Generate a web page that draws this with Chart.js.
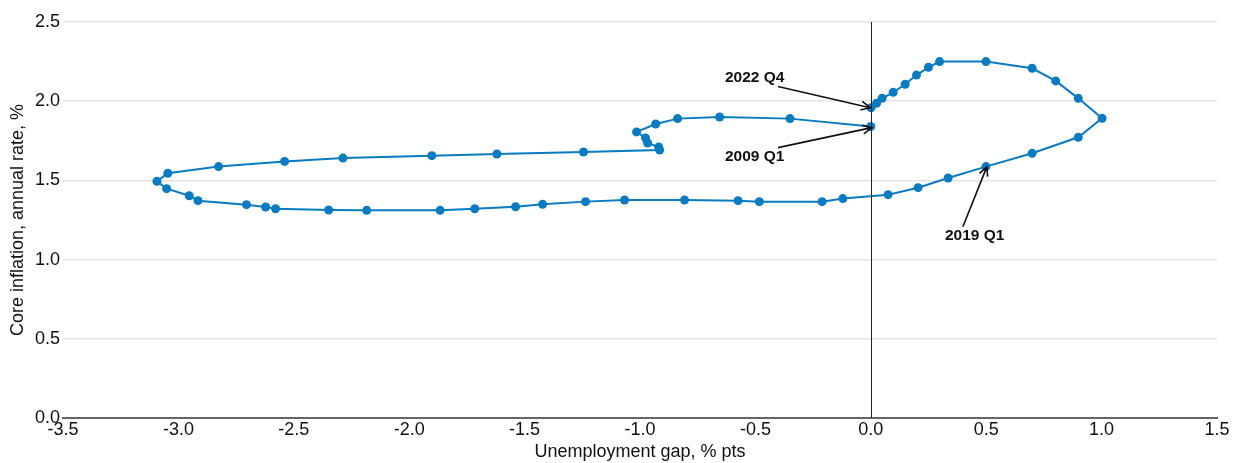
<!DOCTYPE html>
<html>
<head>
<meta charset="utf-8">
<script src="https://cdn.jsdelivr.net/npm/chart.js@4.4.1/dist/chart.umd.min.js"></script>
<style>
  html, body { margin: 0; padding: 0; background: #fff; }
  #wrap { width: 1233px; height: 463px; }
</style>
</head>
<body>
<div id="wrap"><canvas id="phillipsChart"></canvas></div>
<script>
// quarterly path, 2009 Q1 .. 2022 Q4
const unemploymentGap = [
    0.00, -0.35, -0.655, -0.837, -0.932, -1.015, -0.976, -0.967, -0.919, -0.915,
    -1.245, -1.62, -1.902, -2.287, -2.54, -2.826, -3.046, -3.093, -3.051, -2.953,
    -2.915, -2.705, -2.622, -2.579, -2.349, -2.184, -1.866, -1.716, -1.539, -1.422,
    -1.236, -1.067, -0.807, -0.575, -0.483, -0.211, -0.121, 0.075, 0.205, 0.335,
    0.499, 0.699, 0.899, 1.002, 0.899, 0.801, 0.699, 0.499, 0.298, 0.25,
    0.198, 0.149, 0.097, 0.049, 0.025, 0.001
];
const coreInflation = [
    1.84, 1.89, 1.90, 1.89, 1.856, 1.806, 1.768, 1.736, 1.711, 1.692,
    1.679, 1.667, 1.656, 1.641, 1.62, 1.587, 1.545, 1.494, 1.448, 1.403,
    1.372, 1.347, 1.332, 1.321, 1.313, 1.311, 1.311, 1.321, 1.334, 1.349,
    1.366, 1.376, 1.376, 1.372, 1.366, 1.366, 1.385, 1.41, 1.454, 1.515,
    1.587, 1.671, 1.772, 1.892, 2.018, 2.128, 2.208, 2.25, 2.25, 2.214,
    2.165, 2.107, 2.056, 2.018, 1.987, 1.959
];
const xTicks = [-3.5, -3.0, -2.5, -2.0, -1.5, -1.0, -0.5, 0.0, 0.5, 1.0, 1.5];
const yTicks = [0.0, 0.5, 1.0, 1.5, 2.0, 2.5];
const calloutLabels = ['2022 Q4', '2009 Q1', '2019 Q1'];
const calloutPoints = [55, 0, 40];

const FONT = "'Liberation Sans', Arial, sans-serif";
const BLUE = '#0a7bc1';

const points = unemploymentGap.map((x, i) => ({ x: x, y: coreInflation[i] }));

// vertical line at zero gap
const zeroLine = {
    id: 'zeroLine',
    afterDatasetsDraw(chart) {
        const { ctx, chartArea, scales } = chart;
        const px = Math.round(scales.x.getPixelForValue(0)) + 0.5;
        ctx.save();
        ctx.strokeStyle = '#222';
        ctx.lineWidth = 1;
        ctx.beginPath();
        ctx.moveTo(px, chartArea.top);
        ctx.lineTo(px, chartArea.bottom);
        ctx.stroke();
        ctx.restore();
    }
};

// text + arrow callouts, placed in data units
const callouts = {
    id: 'callouts',
    afterDatasetsDraw(chart, args, opts) {
        const { ctx, scales } = chart;
        ctx.save();
        ctx.font = 'bold 15.5px ' + FONT;
        ctx.fillStyle = '#111';
        ctx.strokeStyle = '#111';
        ctx.lineWidth = 1.6;
        ctx.textBaseline = 'middle';
        ctx.textAlign = 'left';
        opts.items.forEach((it, i) => {
            const target = points[calloutPoints[i]];
            ctx.fillText(calloutLabels[i], scales.x.getPixelForValue(it.text[0]), scales.y.getPixelForValue(it.text[1]));
            const x1 = scales.x.getPixelForValue(it.tail[0]);
            const y1 = scales.y.getPixelForValue(it.tail[1]);
            const x2 = scales.x.getPixelForValue(target.x + it.offset[0]);
            const y2 = scales.y.getPixelForValue(target.y + it.offset[1]);
            ctx.beginPath();
            ctx.moveTo(x1, y1);
            ctx.lineTo(x2, y2);
            const ang = Math.atan2(y2 - y1, x2 - x1);
            const len = 10, spread = 0.45;
            ctx.moveTo(x2 - len * Math.cos(ang - spread), y2 - len * Math.sin(ang - spread));
            ctx.lineTo(x2, y2);
            ctx.lineTo(x2 - len * Math.cos(ang + spread), y2 - len * Math.sin(ang + spread));
            ctx.stroke();
        });
        ctx.restore();
    }
};

const ctx = document.getElementById('phillipsChart').getContext('2d');
new Chart(ctx, {
    type: 'scatter',
    data: {
        datasets: [{
            data: points,
            showLine: true,
            borderColor: BLUE,
            backgroundColor: BLUE,
            borderWidth: 2,
            pointRadius: 4.5,
            pointHoverRadius: 4.5,
            pointBorderWidth: 0,
            tension: 0
        }]
    },
    options: {
        responsive: true,
        maintainAspectRatio: false,
        animation: false,
        layout: { padding: { top: 22, right: 16, left: 0, bottom: 0 } },
        plugins: {
            legend: { display: false },
            tooltip: { enabled: false },
            callouts: {
                items: [
                    { text: [-0.632, 2.147], tail: [-0.402, 2.093], offset: [-0.004, 0.0] },
                    { text: [-0.632, 1.65], tail: [-0.402, 1.707], offset: [0.004, -0.007] },
                    { text: [0.321, 1.15], tail: [0.399, 1.207], offset: [0.004, 0.0] }
                ]
            }
        },
        scales: {
            x: {
                type: 'linear',
                min: -3.5,
                max: 1.5,
                afterBuildTicks: (scale) => { scale.ticks = xTicks.map(v => ({ value: v })); },
                afterFit: (scale) => { scale.height = 45; },
                border: { display: true, color: '#666', width: 2 },
                grid: { display: true, drawOnChartArea: false, drawTicks: false },
                ticks: {
                    color: '#111',
                    font: { family: FONT, size: 18 },
                    padding: 1,
                    maxRotation: 0,
                    callback: (v) => v.toFixed(1)
                },
                title: {
                    display: true,
                    text: 'Unemployment gap, % pts',
                    color: '#111',
                    font: { family: FONT, size: 18 },
                    padding: { top: 0, bottom: 0 }
                }
            },
            y: {
                type: 'linear',
                min: 0,
                max: 2.5,
                afterBuildTicks: (scale) => { scale.ticks = yTicks.map(v => ({ value: v })); },
                afterFit: (scale) => { scale.width = 63; },
                border: { display: false },
                grid: { color: '#e4e4e4', lineWidth: 1.5, drawTicks: false },
                ticks: {
                    color: '#111',
                    font: { family: FONT, size: 18 },
                    padding: 3,
                    callback: (v) => v.toFixed(1)
                },
                title: {
                    display: true,
                    text: 'Core inflation, annual rate, %',
                    color: '#111',
                    font: { family: FONT, size: 18 },
                    padding: { top: 7, bottom: 0 }
                }
            }
        }
    },
    plugins: [zeroLine, callouts]
});
</script>
</body>
</html>
